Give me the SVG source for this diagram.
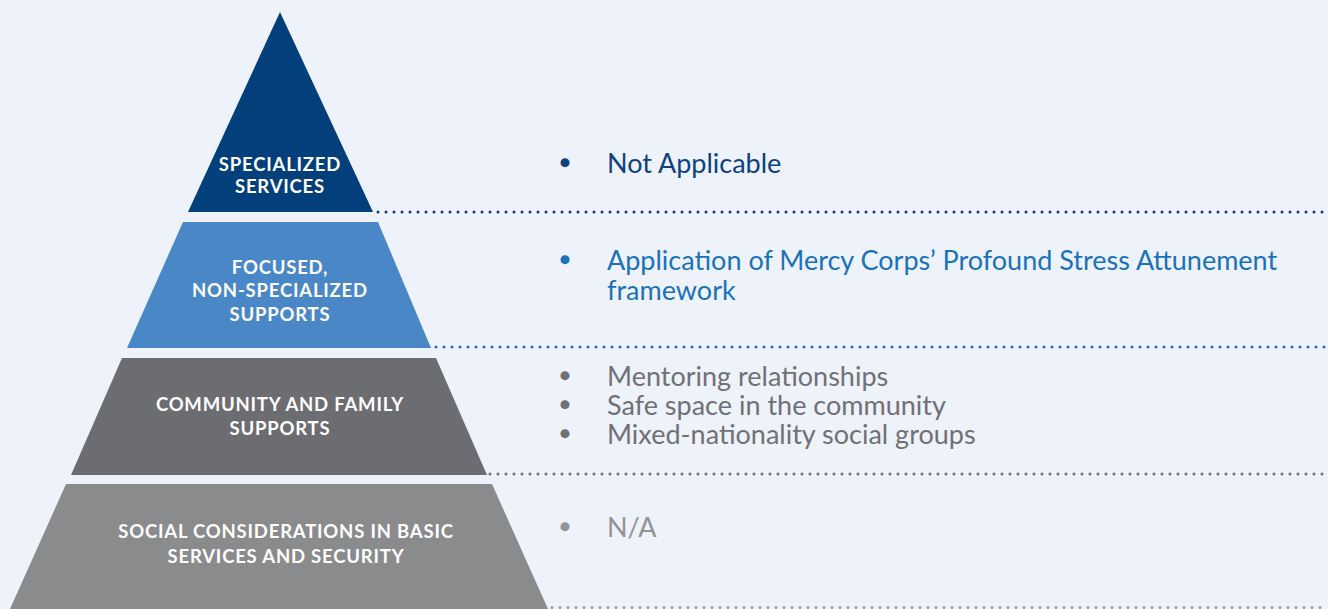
<svg xmlns="http://www.w3.org/2000/svg" width="1328" height="609" viewBox="0 0 1328 609">
<style>
.lbl{font-family:Lato,"Liberation Sans",sans-serif;font-weight:bold;font-size:18.5px;letter-spacing:0.8px;fill:#ffffff;text-anchor:middle}
.body{font-family:Lato,"Liberation Sans",sans-serif;font-size:27px}
.bul{font-family:"Liberation Sans",sans-serif;font-size:24px;text-anchor:middle;stroke-width:2.4;stroke-linejoin:round}
.dot{fill:none;stroke-width:3;stroke-linecap:round;stroke-dasharray:0 8}
</style>
<rect width="1328" height="609" fill="#EEF2FB"/>
<g id="connectors">
<line class="dot" x1="378" y1="212" x2="1328" y2="212" stroke="#0E437E"/>
<line class="dot" x1="436" y1="347" x2="1328" y2="347" stroke="#1A72BB"/>
<line class="dot" x1="490" y1="474" x2="1328" y2="474" stroke="#707175"/>
<line class="dot" x1="552" y1="607.5" x2="1328" y2="607.5" stroke="#9A9B9E" stroke-width="2.2"/>
</g>
<g id="tier1">
<polygon points="280,12 373,212 188,212" fill="#023F7B"/>
<text class="lbl" x="280" y="171">SPECIALIZED</text>
<text class="lbl" x="280" y="193">SERVICES</text>
</g>
<g id="tier2">
<polygon points="183,222 378,222 431,348 127,348" fill="#4A87C7"/>
<text class="lbl" x="280" y="274">FOCUSED,</text>
<text class="lbl" x="280" y="297">NON-SPECIALIZED</text>
<text class="lbl" x="280" y="321">SUPPORTS</text>
</g>
<g id="tier3">
<polygon points="122,358 436,358 487,475 71,475" fill="#6C6D71"/>
<text class="lbl" x="280" y="411">COMMUNITY AND FAMILY</text>
<text class="lbl" x="280" y="435">SUPPORTS</text>
</g>
<g id="tier4">
<polygon points="66,484 492,484 548,609 10,609" fill="#8A8B8D"/>
<text class="lbl" x="286" y="538">SOCIAL CONSIDERATIONS IN BASIC</text>
<text class="lbl" x="286" y="563">SERVICES AND SECURITY</text>
</g>
<g id="desc1" fill="#0E437E">
<text class="bul" x="565" y="171" stroke="#0E437E">•</text>
<text class="body" x="607" y="173">Not Applicable</text>
</g>
<g id="desc2" fill="#1A72BB">
<text class="bul" x="565" y="268" stroke="#1A72BB">•</text>
<text class="body" x="607" y="270">Application of Mercy Corps’ Profound Stress Attunement</text>
<text class="body" x="607" y="300">framework</text>
</g>
<g id="desc3" fill="#707175">
<text class="bul" x="565" y="384" stroke="#707175">•</text>
<text class="body" x="607" y="386">Mentoring relationships</text>
<text class="bul" x="565" y="413" stroke="#707175">•</text>
<text class="body" x="607" y="415">Safe space in the community</text>
<text class="bul" x="565" y="442" stroke="#707175">•</text>
<text class="body" x="607" y="444">Mixed-nationality social groups</text>
</g>
<g id="desc4" fill="#929396">
<text class="bul" x="565" y="535" stroke="#929396">•</text>
<text class="body" x="607" y="537">N/A</text>
</g>
</svg>
